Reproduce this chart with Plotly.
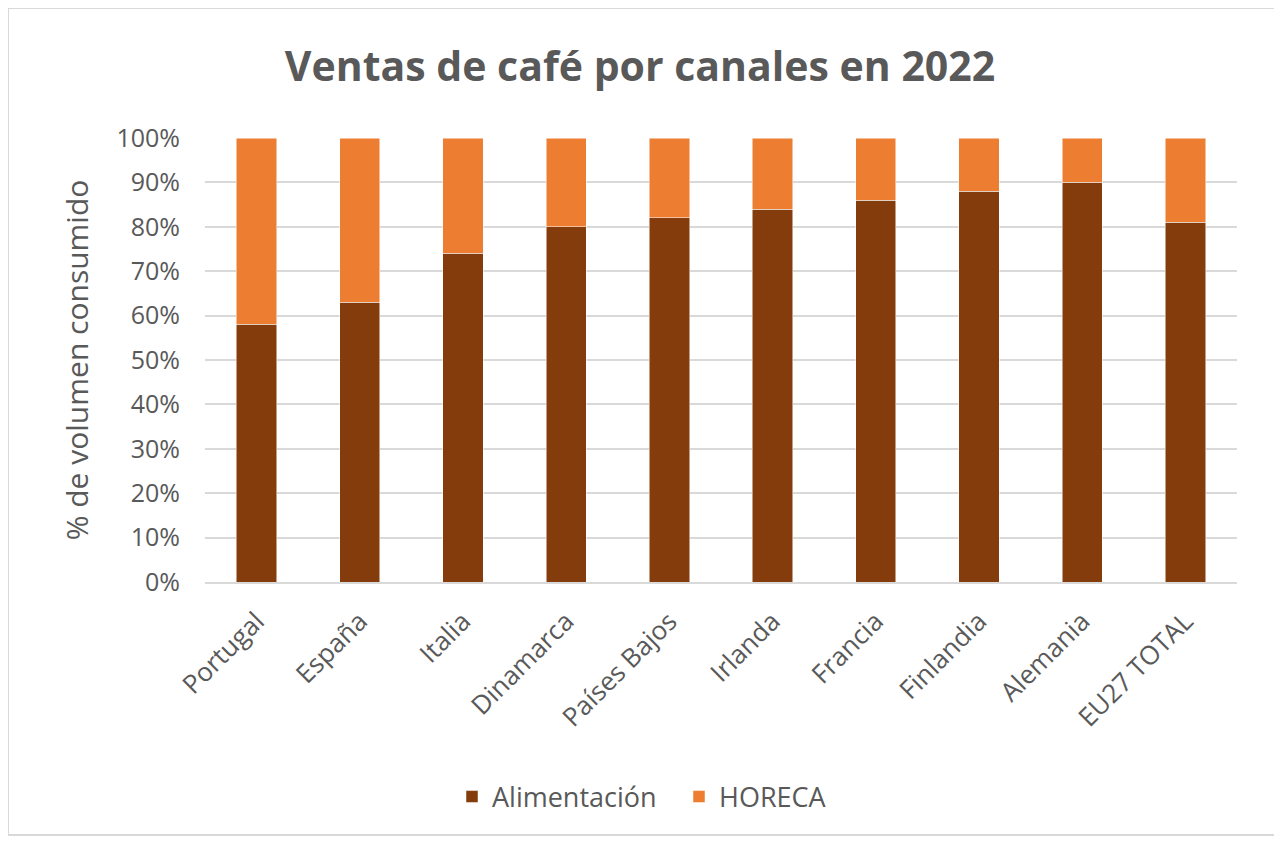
import plotly.graph_objects as go

paises = ["Portugal", "España", "Italia", "Dinamarca", "Países Bajos", "Irlanda",
          "Francia", "Finlandia", "Alemania", "EU27 TOTAL"]
alimentacion = [58, 63, 74, 80, 82, 84, 86, 88, 90, 81]
horeca = [42, 37, 26, 20, 18, 16, 14, 12, 10, 19]

FONT = "'Open Sans', sans-serif"
GRAY = "#595959"

fig = go.Figure()
fig.add_trace(go.Bar(x=paises, y=alimentacion, name="Alimentación",
                     marker=dict(color="#843C0C", line=dict(color="white", width=0.5))))
fig.add_trace(go.Bar(x=paises, y=horeca, name="HORECA",
                     marker=dict(color="#ED7D31", line=dict(color="white", width=0.5))))

OFF = 8  # page body margin
W, H = 1268, 828
L, R, T, B = 205 - OFF, 1237 - OFF, 138 - OFF, 582 - OFF
pw, ph = R - L, B - T

def px(x):
    return (x - OFF - L) / pw

def py(y):
    return (B - (y - OFF)) / ph

fig.update_layout(
    width=W, height=H,
    barmode="stack", bargap=0.61,
    margin=dict(l=L, r=W - R, t=T, b=H - B, autoexpand=False),
    paper_bgcolor="white", plot_bgcolor="white",
    font=dict(family=FONT, color=GRAY, size=25),
    title=dict(text="<b>Ventas de café por canales en 2022</b>", x=(640 - OFF) / W, xanchor="center",
               y=1 - (67 - OFF) / H, yanchor="middle",
               font=dict(family=FONT, size=41, color=GRAY)),
    yaxis=dict(range=[0, 100], dtick=10, ticksuffix="%", showgrid=True,
               gridcolor="#d9d9d9", gridwidth=1.5, zeroline=False,
               tickfont=dict(size=25, color=GRAY), ticklabelstandoff=24,
               title=dict(text="% de volumen consumido", font=dict(size=30, color=GRAY), standoff=18),
               ticks="", showline=False),
    xaxis=dict(tickangle=-45, tickfont=dict(size=26, color=GRAY), showline=True,
               linecolor="#d9d9d9", linewidth=1.5, ticks="", ticklabelstandoff=12),
    legend=dict(orientation="h", x=px(452), xanchor="left", y=py(797), yanchor="middle",
                font=dict(size=27, color=GRAY), traceorder="normal",
                entrywidth=182, entrywidthmode="pixels"),
    showlegend=True,
)

fig.add_shape(type="rect", xref="paper", yref="paper",
              x0=px(8), x1=px(1275), y0=py(835), y1=py(8),
              line=dict(color="#d9d9d9", width=2), fillcolor="rgba(0,0,0,0)", layer="below")

fig.write_html("out.html")
